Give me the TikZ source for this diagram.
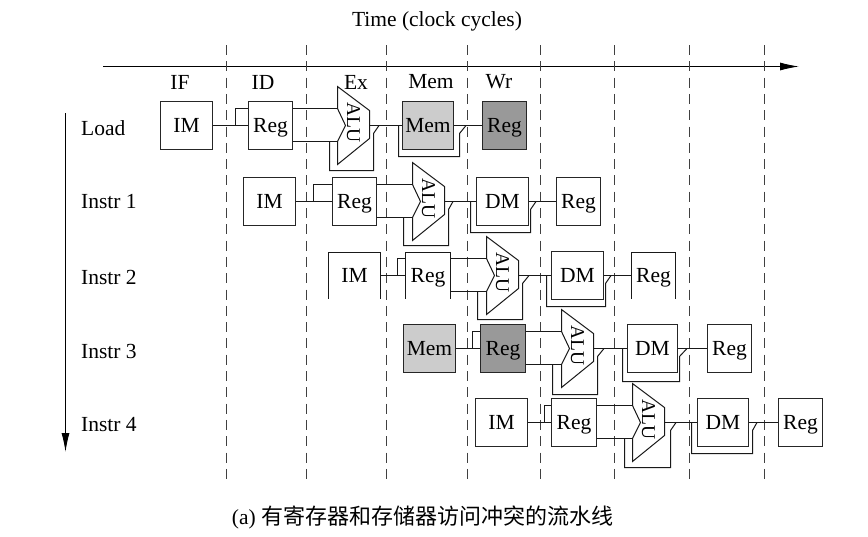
\documentclass[tikz,border=0pt]{standalone}
\usepackage{fontspec}
\setmainfont{Liberation Serif}
\newfontfamily\cjkfont{Noto Sans CJK SC}
\usetikzlibrary{arrows.meta}
\newcommand{\alublock}[3]{
  \begin{scope}[shift={(#2,#3)}]
    \draw[alubody] (0,-39) -- (32,-15) -- (32,13) -- (0,39) -- (0,16) -- (8,0) -- (0,-17) -- cycle;
    \node[alutext] (#1) at (16,-3) {ALU};
    \coordinate (#1u) at (0,-17);
    \coordinate (#1l) at (0,16);
    \coordinate (#1o) at (32,0);
  \end{scope}
}
\newcommand{\bypass}[7]{
  \coordinate (#1s) at (#2,#3);
  \coordinate (#1c) at (#5,#4);
  \coordinate (#1k) at (#5,#7+8);
  \coordinate (#1t) at (#6,#7);
  \draw[wire] (#1s) |- (#1c) -- (#1k) -- (#1t);
}

\begin{document}
\begin{tikzpicture}[
    x=1pt, y=-1pt,
    every node/.style={font=\fontsize{21.5}{25}\selectfont, inner sep=0pt},
    box/.style={draw=black!85, line width=1.1pt, align=center, minimum width=#1, minimum height=48pt, text height=13pt, text depth=0pt, fill=white},
    openbox/.style={align=center, minimum width=#1, minimum height=46pt, text height=13pt, text depth=0pt},
    wire/.style={line width=1pt, black!90},
    alubody/.style={line width=1pt, black!90, fill=white},
    alutext/.style={rotate=-90, font=\fontsize{19.5}{24}\selectfont},
    cycleline/.style={line width=1pt, black!75, dash pattern=on 10pt off 6.3pt},
    axis/.style={-{Latex[length=19pt, width=8pt]}, line width=1pt},
    rowlabel/.style={anchor=west}
]
\useasboundingbox (0,0) rectangle (868,536);

\node (timelabel) at (437,21.5) {Time (clock cycles)};
\coordinate (timestart) at (103,66.5);
\coordinate (timeend) at (799,66.5);
\draw[axis] (timestart) -- (timeend);
\coordinate (instrstart) at (65.5,113);
\coordinate (instrend) at (65.5,452);
\draw[axis] (instrstart) -- (instrend);

\draw[cycleline] (226.5,45) -- (226.5,484);
\draw[cycleline] (306.5,45) -- (306.5,484);
\draw[cycleline] (386.5,45) -- (386.5,484);
\draw[cycleline] (467.5,45) -- (467.5,484);
\draw[cycleline] (540.5,45) -- (540.5,484);
\draw[cycleline] (614.5,45) -- (614.5,484);
\draw[cycleline] (689.5,45) -- (689.5,484);
\draw[cycleline] (764.5,45) -- (764.5,484);

\node (ifstage) at (180,82) {IF};
\node (idstage) at (263,82) {ID};
\node (exstage) at (356,82) {Ex};
\node (memstage) at (431,82) {Mem};
\node (wrstage) at (499,82) {Wr};

\node[rowlabel] (loadlabel) at (81,128) {Load};
\node[rowlabel] (instrb) at (81,202) {Instr 1};
\node[rowlabel] (instrc) at (81,277) {Instr 2};
\node[rowlabel] (instrd) at (81,351) {Instr 3};
\node[rowlabel] (instre) at (81,425) {Instr 4};

% Load
\node[box=52pt] (imA) at (186.5,125.5) {IM};
\node[box=44pt] (regA) at (270.5,125.5) {Reg};
\alublock{aluA}{337.5}{125.5}
\node[box=51pt, fill=black!20] (memA) at (428,125.5) {Mem};
\node[box=44pt, fill=black!40] (wrA) at (504.5,125.5) {Reg};
\coordinate (brA) at (235.5,125.5);
\draw[wire] (imA) -- (regA);
\draw[wire] (brA) |- (regA.west |- aluAu);
\draw[wire] (regA.east |- aluAu) -- (aluAu);
\draw[wire] (regA.east |- aluAl) -- (aluAl);
\draw[wire] (aluAo) -- (memA);
\draw[wire] (memA) -- (wrA);
\bypass{fwdA}{329.5}{141.5}{170.5}{373.5}{379}{125.5}
\bypass{memfwdA}{398.5}{125.5}{156.5}{459.5}{466}{125.5}

% Instr 1
\node[box=52pt] (imB) at (269.5,201.5) {IM};
\node[box=44pt] (regB) at (354.5,201.5) {Reg};
\alublock{aluB}{412.5}{201.5}
\node[box=52pt] (dmB) at (502.5,201.5) {DM};
\node[box=44pt] (wrB) at (578.5,201.5) {Reg};
\coordinate (brB) at (313.5,201.5);
\draw[wire] (imB) -- (regB);
\draw[wire] (brB) |- (regB.west |- aluBu);
\draw[wire] (regB.east |- aluBu) -- (aluBu);
\draw[wire] (regB.east |- aluBl) -- (aluBl);
\draw[wire] (aluBo) -- (dmB);
\draw[wire] (dmB) -- (wrB);
\bypass{fwdB}{403.5}{217.5}{245.5}{448.5}{453}{201.5}
\bypass{memfwdB}{470.5}{201.5}{232.5}{530.5}{536}{201.5}

% Instr 2
\node[openbox=52pt] (imC) at (354.5,275.5) {IM};
\node[openbox=45pt] (regC) at (428,275.5) {Reg};
\alublock{aluC}{486.5}{275.5}
\node[box=52pt] (dmC) at (577.5,275.5) {DM};
\node[openbox=44pt] (wrC) at (653.5,275.5) {Reg};
\draw[wire] (imC.south west) |- (imC.north east) -- (imC.south east);
\draw[wire] (regC.south west) |- (regC.north east) -- (regC.south east);
\draw[wire] (wrC.south west) |- (wrC.north east) -- (wrC.south east);
\coordinate (brC) at (397.5,275.5);
\draw[wire] (imC.east |- brC) -- (regC.west |- brC);
\draw[wire] (brC) |- (regC.west |- aluCu);
\draw[wire] (regC.east |- aluCu) -- (aluCu);
\draw[wire] (regC.east |- aluCl) -- (aluCl);
\draw[wire] (aluCo) -- (dmC);
\draw[wire] (dmC) -- (wrC.west |- dmC);
\bypass{fwdC}{477.5}{291.5}{319.5}{522.5}{529}{275.5}
\bypass{memfwdC}{546.5}{275.5}{306.5}{605.5}{611}{275.5}

% Instr 3
\node[box=52pt, fill=black!20] (memD) at (429.5,348.5) {Mem};
\node[box=45pt, fill=black!40] (regD) at (503,348.5) {Reg};
\alublock{aluD}{561.5}{348.5}
\node[box=50pt] (dmD) at (652.5,348.5) {DM};
\node[box=44pt] (wrD) at (729.5,348.5) {Reg};
\coordinate (brD) at (472.5,348.5);
\draw[wire] (memD) -- (regD);
\draw[wire] (brD) |- (regD.west |- aluDu);
\draw[wire] (regD.east |- aluDu) -- (aluDu);
\draw[wire] (regD.east |- aluDl) -- (aluDl);
\draw[wire] (aluDo) -- (dmD);
\draw[wire] (dmD) -- (wrD);
\bypass{fwdD}{552.5}{364.5}{394.5}{597.5}{604}{348.5}
\bypass{memfwdD}{622.5}{348.5}{381.5}{679.5}{687}{348.5}

% Instr 4
\node[box=52pt] (imE) at (501.5,422.5) {IM};
\node[box=45pt] (regE) at (574,422.5) {Reg};
\alublock{aluE}{632.5}{422.5}
\node[box=51pt] (dmE) at (723,422.5) {DM};
\node[box=44pt] (wrE) at (800.5,422.5) {Reg};
\coordinate (brE) at (544.5,422.5);
\draw[wire] (imE) -- (regE);
\draw[wire] (brE) |- (regE.west |- aluEu);
\draw[wire] (regE.east |- aluEu) -- (aluEu);
\draw[wire] (regE.east |- aluEl) -- (aluEl);
\draw[wire] (aluEo) -- (dmE);
\draw[wire] (dmE) -- (wrE);
\bypass{fwdE}{624.5}{438.5}{467.5}{670.5}{676}{422.5}
\bypass{memfwdE}{691.5}{422.5}{453.5}{752.5}{757}{422.5}

\node (caption) at (422.5,517) {(a) {\cjkfont\fontsize{22}{25}\selectfont 有寄存器和存储器访问冲突的流水线}};
\end{tikzpicture}
\end{document}
